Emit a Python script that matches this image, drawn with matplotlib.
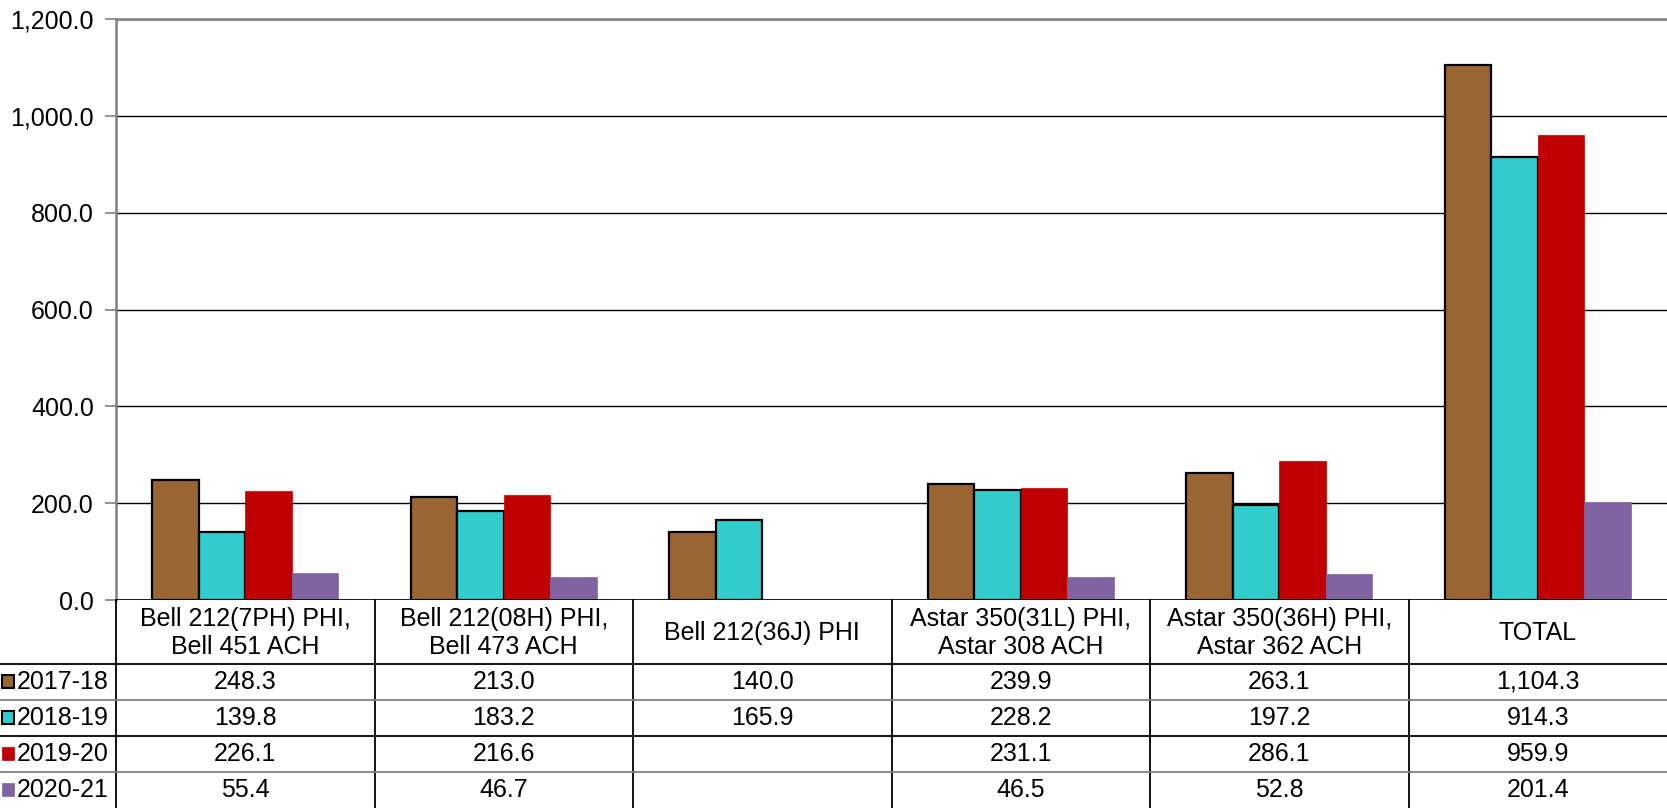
import numpy as np
import matplotlib
matplotlib.use("Agg")
import matplotlib.pyplot as plt

plt.rcParams['font.family'] = ['Liberation Sans', 'DejaVu Sans']

categories = ["Bell 212(7PH) PHI,\nBell 451 ACH", "Bell 212(08H) PHI,\nBell 473 ACH",
              "Bell 212(36J) PHI", "Astar 350(31L) PHI,\nAstar 308 ACH",
              "Astar 350(36H) PHI,\nAstar 362 ACH", "TOTAL"]
series_names = ["2017-18", "2018-19", "2019-20", "2020-21"]
v2017 = [248.3, 213.0, 140.0, 239.9, 263.1, 1104.3]
v2018 = [139.8, 183.2, 165.9, 228.2, 197.2, 914.3]
v2019 = [226.1, 216.6, np.nan, 231.1, 286.1, 959.9]
v2020 = [55.4, 46.7, np.nan, 46.5, 52.8, 201.4]
series = [v2017, v2018, v2019, v2020]
colors = ["#996633", "#33CCCC", "#C00000", "#8064A2"]
edged = [True, True, False, False]
yticks = [0, 200, 400, 600, 800, 1000, 1200]

FS = 18
W, H = 1667, 808
fig = plt.figure(figsize=(W/100, H/100), dpi=100)
L, R, T, B = 116, 1667, 19, 600
ax = fig.add_axes([L/W, 1 - B/H, (R-L)/W, (B-T)/H])
n = len(categories)
x = np.arange(n) + 0.5
bw = 0.18
for k, (vals, c, e) in enumerate(zip(series, colors, edged)):
    ax.bar(x + (k-1.5)*bw, vals, width=bw, color=c,
           edgecolor='black' if e else c, linewidth=1.6 if e else 0.5, zorder=3)
ax.set_xlim(0, n)
ax.set_ylim(0, 1200)
ax.set_yticks(yticks)
ax.set_yticklabels([f"{v:,.1f}" for v in yticks], fontsize=FS)
ax.set_xticks([])
ax.yaxis.grid(True, color='black', linewidth=1.0, zorder=0)
ax.tick_params(axis='y', length=8, width=1.2, color='#808080', pad=8)
for s in ['right', 'bottom']:
    ax.spines[s].set_visible(False)
ax.spines['left'].set_color('#808080')
ax.spines['left'].set_linewidth(1.8)
ax.spines['top'].set_color('#808080')
ax.spines['top'].set_linewidth(1.8)
ax.axhline(0, color='black', linewidth=1.2, zorder=4)

# data table
tax = fig.add_axes([L/W, 0, (R-L)/W, (H-B)/H])
tax.set_xlim(0, n)
tax.set_ylim(H, B)
tax.axis('off')
header_bot = 664
row_h = (H - header_bot) / 4
for i in range(n):
    tax.plot([i, i], [B, H], color='black', lw=1.3, clip_on=False)
row_lines = [header_bot + r*row_h for r in range(4)]
xleft = -L / ((R-L)/n)
for r, y in enumerate(row_lines):
    tax.plot([xleft, n], [y, y], color='black' if r % 2 == 0 else '#808080', lw=1.3, clip_on=False)
for i, cat in enumerate(categories):
    tax.text(i + 0.5, (B + header_bot)/2 + 1, cat, ha='center', va='center', fontsize=FS, linespacing=1.2)
px = (R-L)/n
for r, (vals, name, c, e) in enumerate(zip(series, series_names, colors, edged)):
    yc = header_bot + (r + 0.5)*row_h
    for i, v in enumerate(vals):
        if not np.isnan(v):
            tax.text(i + 0.5, yc, f"{v:,.1f}", ha='center', va='center', fontsize=FS)
    tax.add_patch(plt.Rectangle((xleft + 2/px, yc + 6.5), 12/px, -13, facecolor=c,
                                edgecolor='black' if e else c, lw=1.5 if e else 0.5, clip_on=False))
    tax.text(xleft + 17/px, yc, name, ha='left', va='center', fontsize=FS, clip_on=False)

fig.savefig("out.png", dpi=100)
